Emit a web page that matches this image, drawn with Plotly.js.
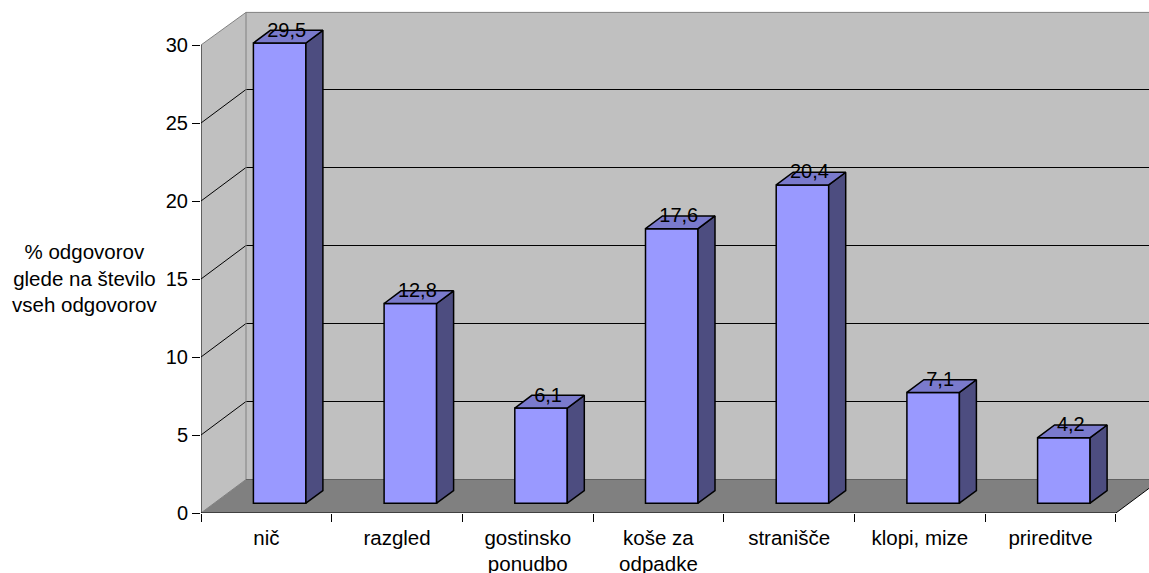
<!DOCTYPE html>
<html>
<head>
<meta charset="utf-8">
<script src="https://cdn.plot.ly/plotly-3.0.1.min.js"></script>
<style>html,body{margin:0;padding:0;background:#fff;overflow:hidden}</style>
</head>
<body>
<div id="chart" style="width:1149px;height:573px"></div>
<script>
// Survey answers, share of all responses (%)
const categories = ['nič', 'razgled', 'gostinsko<br>ponudbo', 'koše za<br>odpadke', 'stranišče', 'klopi, mize', 'prireditve'];
const values = [29.5, 12.8, 6.1, 17.6, 20.4, 7.1, 4.2];
const yTicks = [0, 5, 10, 15, 20, 25, 30];
const yTitle = '% odgovorov<br>glede na število<br>vseh odgovorov';

// Pixel geometry of the oblique projection
const W = 1149, H = 573;
const left = 201, bottom = 60;         // plot margins
const catPx = 130.7, unitPx = 15.6;    // pixels per category / per percent
const plotW = W - left, plotH = 505;
const depthX = 45 / catPx, depthY = 33.5 / unitPx;  // floor depth in axis units
const barW = 52.5 / catPx;
const barDX = 17 / catPx, barDY = 12.7 / unitPx;    // bar depth
const frontX = 13.3 / catPx, frontY = 9.8 / unitPx; // gap from the front edge
const n = categories.length;
const yMax = plotH / unitPx, xMax = plotW / catPx;
const fontFamily = 'Liberation Sans';
const fontSize = 20, labelSize = 20.5;

const lineShape = (x0, y0, x1, y1, color, width) => ({
  type: 'line', xref: 'x', yref: 'y', x0, y0, x1, y1, layer: 'below',
  line: {color, width}
});
const polyShape = (pts, fill) => ({
  type: 'path', xref: 'x', yref: 'y', layer: 'below', fillcolor: fill,
  line: {width: 0},
  path: 'M' + pts.map(p => p.join(',')).join('L') + 'Z'
});

const wallTop = 30 + 32.6 / unitPx;
const shapes = [
  // back wall, side wall, floor
  polyShape([[depthX, depthY], [xMax + 1, depthY], [xMax + 1, wallTop], [depthX, wallTop]], '#C0C0C0'),
  polyShape([[0, 0], [depthX, depthY], [depthX, wallTop], [0, 30]], '#C0C0C0'),
  polyShape([[0, 0], [n, 0], [n + depthX, depthY], [depthX, depthY]], '#808080')
];
// gridlines across both walls
yTicks.slice(1, -1).forEach(v => {
  shapes.push(lineShape(0, v, depthX, v + depthY, '#000', 1));
  shapes.push(lineShape(depthX, v + depthY, xMax, v + depthY, '#000', 1));
});
// wall outlines
shapes.push(lineShape(0, 30, depthX, wallTop, '#808080', 1));
shapes.push(lineShape(depthX, wallTop, xMax, wallTop, '#808080', 1));
shapes.push(lineShape(depthX, depthY, depthX, wallTop, '#808080', 1));
shapes.push(lineShape(depthX, depthY, xMax, depthY, '#606060', 1));
shapes.push(lineShape(0, 0, depthX, depthY, '#808080', 1));
// axis lines stop at the front of the box
shapes.push(lineShape(0, 0, 0, 30, '#000', 1));
shapes.push(lineShape(0, 0, n, 0, '#000', 1));
shapes.push(lineShape(n, 0, n + depthX, depthY, '#000', 1));

const centers = categories.map((_, i) => i + 0.5 + frontX);
const faceX = [], faceY = [], topX = [], topY = [];
values.forEach((v, i) => {
  const x0 = centers[i] - barW / 2, x1 = centers[i] + barW / 2;
  const y0 = frontY, y1 = frontY + v;
  faceX.push(x1, x1 + barDX, x1 + barDX, x1, x1, null);
  faceY.push(y0, y0 + barDY, y1 + barDY, y1, y0, null);
  topX.push(x0, x1, x1 + barDX, x0 + barDX, x0, null);
  topY.push(y1, y1, y1 + barDY, y1 + barDY, y1, null);
});

const outline = {color: '#000', width: 1.5};
const data = [
  {type: 'bar', x: centers, y: values, base: values.map(() => frontY), width: barW,
   marker: {color: '#9999FF', line: outline}, hoverinfo: 'skip'},
  {type: 'scatter', mode: 'lines', x: faceX, y: faceY, fill: 'toself', fillcolor: '#4D4D80',
   line: outline, hoverinfo: 'skip'},
  {type: 'scatter', mode: 'lines', x: topX, y: topY, fill: 'toself', fillcolor: '#7A7ACC',
   line: outline, hoverinfo: 'skip'},
  {type: 'scatter', mode: 'text',
   x: centers.map(c => c + 7 / catPx),
   y: values.map(v => v + frontY + 11.5 / unitPx),
   text: values.map(v => v.toFixed(1).replace('.', ',')),
   textposition: 'middle center', cliponaxis: false,
   textfont: {family: fontFamily, size: fontSize, color: '#000'}, hoverinfo: 'skip'}
];

const annotations = [{
  text: yTitle, showarrow: false, xref: 'paper', yref: 'paper',
  x: (84 - left) / plotW, y: (H - bottom - 278) / plotH,
  xanchor: 'center', yanchor: 'middle', align: 'center',
  font: {family: fontFamily, size: labelSize, color: '#000'}
}];

const layout = {
  width: W, height: H,
  margin: {l: left, r: 0, t: H - bottom - plotH, b: bottom, pad: 0},
  paper_bgcolor: '#fff', plot_bgcolor: '#fff',
  showlegend: false, bargap: 0,
  font: {family: fontFamily, size: fontSize, color: '#000'},
  xaxis: {
    range: [0, xMax], showgrid: false, zeroline: false, showline: false,
    ticks: 'outside', ticklen: 6, tickcolor: 'rgba(0,0,0,0)',
    tickmode: 'array',
    tickvals: categories.map((_, i) => i + 0.5),
    ticktext: categories,
    tickfont: {size: labelSize}, tickangle: 0,
    minor: {tickmode: 'array', tickvals: categories.map((_, i) => i).concat([n]),
            ticks: 'outside', ticklen: 8, tickcolor: '#000', tickwidth: 1, showgrid: false}
  },
  yaxis: {
    range: [0, yMax], showgrid: false, zeroline: false, showline: false,
    tickmode: 'array', tickvals: yTicks, ticktext: yTicks.map(String),
    ticks: 'outside', ticklen: 8, tickcolor: '#000', tickwidth: 1,
    tickfont: {size: fontSize}
  },
  shapes, annotations
};

Plotly.newPlot('chart', data, layout, {displayModeBar: false, staticPlot: true});
</script>
</body>
</html>
